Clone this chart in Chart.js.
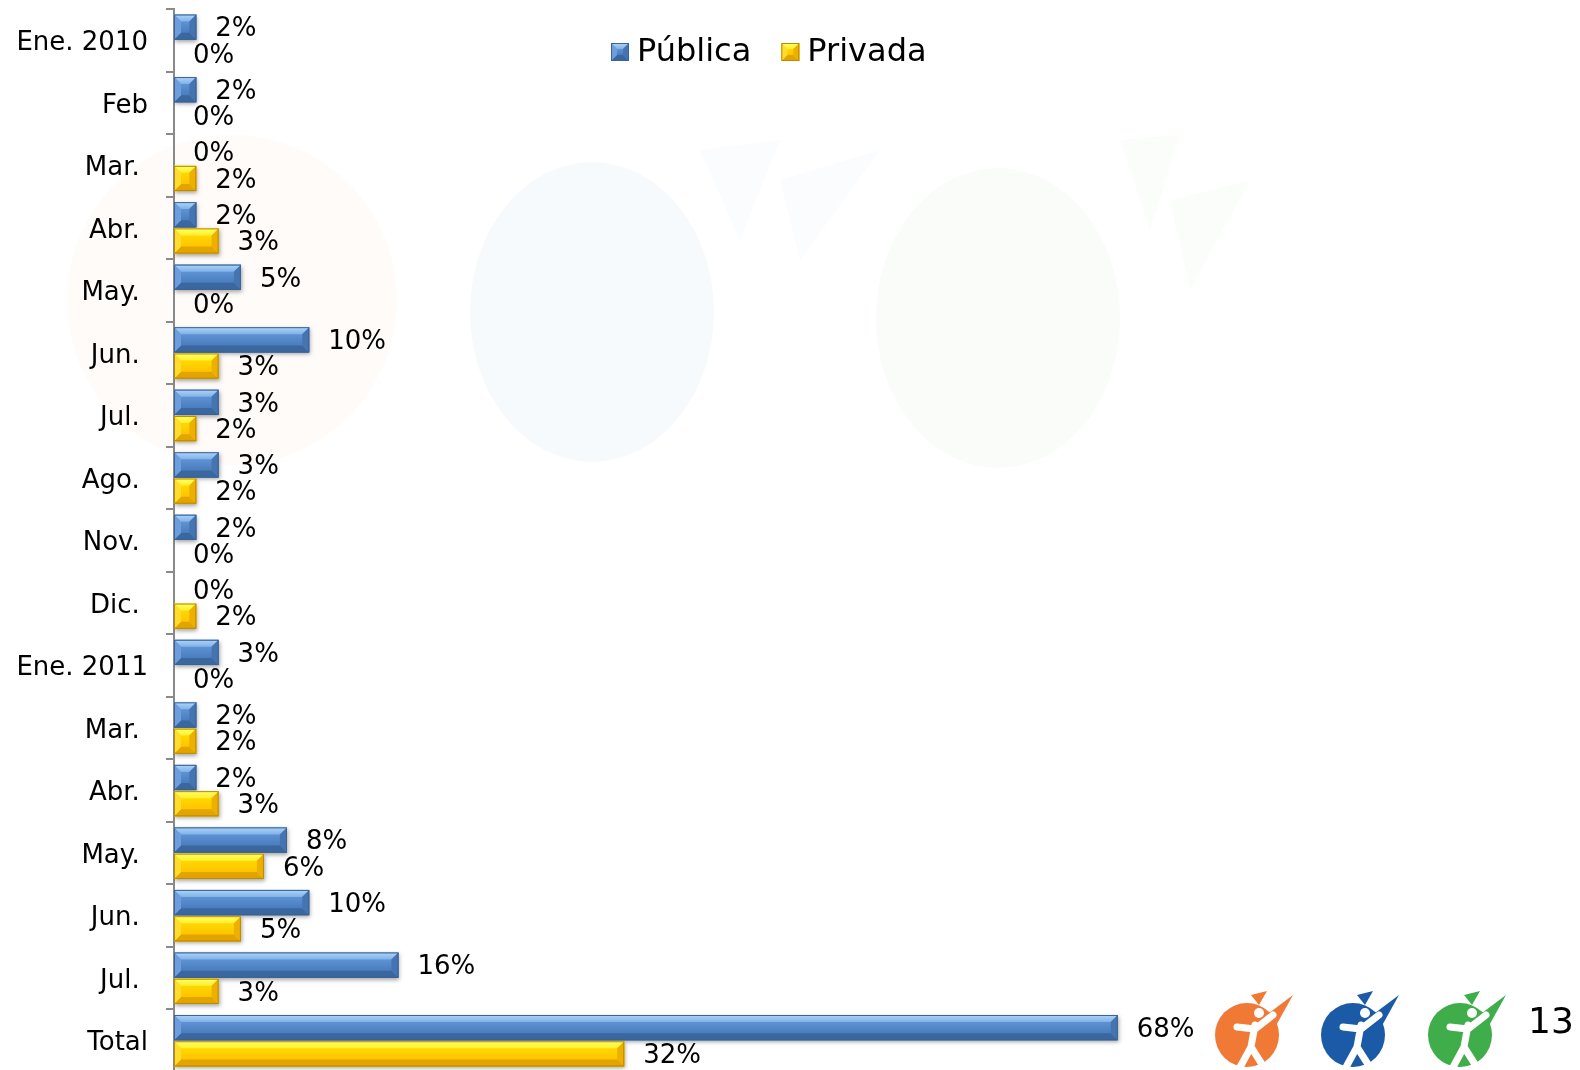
<!DOCTYPE html>
<html><head><meta charset="utf-8">
<script src="https://cdn.jsdelivr.net/npm/chart.js@4.4.1/dist/chart.umd.min.js"></script>
<style>
html,body{margin:0;padding:0;background:#fff;overflow:hidden;width:1580px;height:1070px}
#wrap{position:relative;width:1580px;height:1072px}
canvas{display:block}
</style></head><body><div id="wrap"><canvas id="c" width="1580" height="1072"></canvas></div>
<script>
const categories = ['Ene. 2010','Feb','Mar. ','Abr. ','May. ','Jun. ','Jul. ','Ago. ','Nov. ','Dic. ','Ene. 2011','Mar. ','Abr. ','May. ','Jun. ','Jul. ','Total'];
const publicaValues = [1.6,1.6,0,1.6,4.8,9.7,3.2,3.2,1.6,0,3.2,1.6,1.6,8.1,9.7,16.1,67.7];
const privadaValues = [0,0,1.6,3.2,0,3.2,1.6,1.6,0,1.6,0,1.6,3.2,6.45,4.8,3.2,32.3];
const publicaLabels = ['2%','2%','0%','2%','5%','10%','3%','3%','2%','0%','3%','2%','2%','8%','10%','16%','68%'];
const privadaLabels = ['0%','0%','2%','3%','0%','3%','2%','2%','0%','2%','0%','2%','3%','6%','5%','3%','32%'];
const seriesNames = ['Pública','Privada'];
const pageNumber = '13';

const FONT = '"DejaVu Sans", Verdana, sans-serif';
const palettes = [
  {face1:'#5e92d3', face2:'#4a7dbd', top1:'#b0d4f7', top2:'#7fb2ea', bottom:'#3b679f', left:'#6d9edb', right:'#4674b0', border:'#3a6396'},
  {face1:'#ffd800', face2:'#ffc400', top1:'#ffff66', top2:'#fff02e', bottom:'#e3a400', left:'#ffdc30', right:'#eeb000', border:'#b98b00'}
];

function poly(ctx, pts, fill){
  ctx.beginPath(); ctx.moveTo(pts[0][0],pts[0][1]);
  for (let i=1;i<pts.length;i++) ctx.lineTo(pts[i][0],pts[i][1]);
  ctx.closePath(); ctx.fillStyle=fill; ctx.fill();
}
function bevelRect(ctx, L, T, R, B, pal, bsz, shadow){
  const w=R-L, h=B-T;
  if (w<=0.5) return;
  const b=Math.min(bsz, w/2, h/2);
  ctx.save();
  if (shadow){ctx.shadowColor='rgba(0,0,0,0.35)';ctx.shadowBlur=4;ctx.shadowOffsetX=1;ctx.shadowOffsetY=2;}
  ctx.fillStyle=pal.face2; ctx.fillRect(L,T,w,h);
  ctx.restore();
  let g=ctx.createLinearGradient(0,T+b,0,B-b); g.addColorStop(0,pal.face1); g.addColorStop(1,pal.face2);
  ctx.fillStyle=g; ctx.fillRect(L,T,w,h);
  g=ctx.createLinearGradient(0,T,0,T+b); g.addColorStop(0,pal.top1); g.addColorStop(1,pal.top2);
  poly(ctx,[[L,T],[R,T],[R-b,T+b],[L+b,T+b]],g);
  poly(ctx,[[L,B],[R,B],[R-b,B-b],[L+b,B-b]],pal.bottom);
  poly(ctx,[[L,T],[L+b,T+b],[L+b,B-b],[L,B]],pal.left);
  poly(ctx,[[R,T],[R-b,T+b],[R-b,B-b],[R,B]],pal.right);
  ctx.strokeStyle=pal.border; ctx.lineWidth=1;
  ctx.strokeRect(L+0.5,T+0.5,w-1,h-1);
}

const watermarkPlugin = {
  id:'watermark',
  beforeDraw(chart){
    const ctx=chart.ctx;
    ctx.save();
    const blobs=[
      {x:232,y:300,rx:165,ry:165,c:'rgba(245,140,50,0.03)'},
      {x:592,y:312,rx:122,ry:150,c:'rgba(40,100,180,0.035)'},
      {x:998,y:318,rx:122,ry:150,c:'rgba(70,170,70,0.03)'}
    ];
    blobs.forEach(o=>{ctx.beginPath();ctx.ellipse(o.x,o.y,o.rx,o.ry,0,0,Math.PI*2);ctx.fillStyle=o.c;ctx.fill();});
    poly(ctx,[[700,150],[780,140],[740,240]],'rgba(40,100,180,0.02)');
    poly(ctx,[[780,180],[880,150],[800,260]],'rgba(40,100,180,0.02)');
    poly(ctx,[[1120,140],[1180,135],[1150,230]],'rgba(70,170,70,0.02)');
    poly(ctx,[[1170,200],[1250,180],[1190,290]],'rgba(70,170,70,0.02)');
    ctx.restore();
  }
};

const bevelPlugin = {
  id:'bevel',
  afterDatasetsDraw(chart){
    const ctx=chart.ctx;
    ctx.save();
    ctx.beginPath(); ctx.rect(chart.chartArea.left, 0, chart.width, chart.height); ctx.clip();
    chart.data.datasets.forEach((ds,di)=>{
      const meta=chart.getDatasetMeta(di);
      meta.data.forEach(el=>{
        const p=el.getProps(['x','y','base','height'],true);
        const L=Math.min(p.x,p.base), R=Math.max(p.x,p.base);
        bevelRect(ctx,L,p.y-p.height/2,R,p.y+p.height/2,palettes[di],7,true);
      });
    });
    ctx.fillStyle='#000'; ctx.font='26px '+FONT; ctx.textAlign='left'; ctx.textBaseline='middle';
    const labs=[publicaLabels,privadaLabels];
    chart.data.datasets.forEach((ds,di)=>{
      const meta=chart.getDatasetMeta(di);
      meta.data.forEach((el,i)=>{
        const p=el.getProps(['x','y'],true);
        ctx.fillText(labs[di][i], p.x+19, p.y+2.5);
      });
    });
    ctx.restore();
  }
};

const legendPlugin = {
  id:'customLegend',
  afterDraw(chart){
    const ctx=chart.ctx;
    ctx.save();
    ctx.font='32px '+FONT; ctx.textBaseline='middle'; ctx.textAlign='left'; ctx.fillStyle='#000';
    let x=611; const y=52;
    chart.data.datasets.forEach((ds,di)=>{
      bevelRect(ctx,x,y-9,x+18,y+9,palettes[di],6,false);
      ctx.fillStyle='#000';
      ctx.fillText(ds.label,x+26,y+1);
      x += 26 + ctx.measureText(ds.label).width + 30;
    });
    const logos=[{cx:1247,c:'#f07a35'},{cx:1353,c:'#1b5aa6'},{cx:1460,c:'#3fae4a'}];
    const cy=1035;
    logos.forEach(o=>{
      ctx.fillStyle=o.c;
      ctx.beginPath(); ctx.arc(o.cx,cy,32,0,Math.PI*2); ctx.fill();
      poly(ctx,[[o.cx+14,cy-16],[o.cx+46,cy-40],[o.cx+26,cy-4]],o.c);
      poly(ctx,[[o.cx+4,cy-40],[o.cx+20,cy-44],[o.cx+12,cy-30]],o.c);
      ctx.strokeStyle='#fff'; ctx.lineCap='round'; ctx.lineWidth=7;
      ctx.beginPath(); ctx.arc(o.cx+12,cy-22,5,0,Math.PI*2); ctx.fillStyle='#fff'; ctx.fill();
      ctx.beginPath();
      ctx.moveTo(o.cx-10,cy-8); ctx.lineTo(o.cx+8,cy-6); ctx.lineTo(o.cx+26,cy-20);
      ctx.moveTo(o.cx+8,cy-10); ctx.lineTo(o.cx+4,cy+12);
      ctx.lineTo(o.cx-8,cy+34);
      ctx.moveTo(o.cx+4,cy+12); ctx.lineTo(o.cx+18,cy+34);
      ctx.stroke();
    });
    ctx.fillStyle='#000'; ctx.font='36px '+FONT; ctx.textBaseline='alphabetic';
    ctx.fillText(pageNumber,1528,1033);
    ctx.restore();
  }
};

new Chart(document.getElementById('c'), {
  type:'bar',
  data:{
    labels:categories,
    datasets:[
      {label:seriesNames[0], data:publicaValues, backgroundColor:palettes[0].face2, borderColor:palettes[0].border, borderWidth:1},
      {label:seriesNames[1], data:privadaValues, backgroundColor:palettes[1].face2, borderColor:palettes[1].border, borderWidth:1}
    ]
  },
  options:{
    indexAxis:'y',
    responsive:false,
    animation:false,
    devicePixelRatio:1,
    layout:{padding:{top:9,right:12,bottom:0,left:0}},
    categoryPercentage:0.84,
    barPercentage:0.96,
    plugins:{legend:{display:false},tooltip:{enabled:false}},
    scales:{
      x:{display:false,min:0,max:100},
      y:{
        afterFit(scale){scale.width=174; scale.paddingTop=0; scale.paddingBottom=0;},
        grid:{drawOnChartArea:false,drawTicks:true,tickLength:8,color:'#8a8a8a',lineWidth:2,offset:true},
        border:{display:true,color:'#8a8a8a',width:2},
        ticks:{color:'#000',font:{family:FONT,size:26},padding:18,autoSkip:false,labelOffset:3}
      }
    }
  },
  plugins:[watermarkPlugin,bevelPlugin,legendPlugin]
});
</script></body></html>
